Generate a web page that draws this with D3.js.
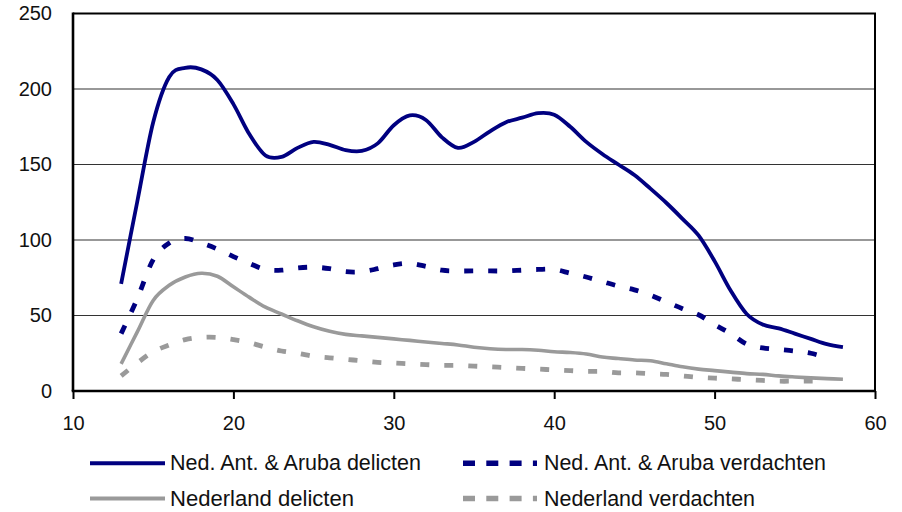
<!DOCTYPE html>
<html>
<head>
<meta charset="utf-8">
<script src="https://cdn.jsdelivr.net/npm/d3@7/dist/d3.min.js"></script>
<style>
  html, body { margin: 0; padding: 0; background: #fff; }
  svg { display: block; }
  text { font-family: "Liberation Sans", Arial, sans-serif; fill: #111; }
</style>
</head>
<body>
<svg id="chart" width="902" height="512"></svg>
<script>
// Leeftijd (ages) on the horizontal axis
const agesFull = d3.range(13, 59);   // 13 .. 58
const agesShort = d3.range(13, 58);  // 13 .. 57

// Ned. Ant. & Aruba delicten
const naDelicten = [71, 125, 178, 208, 214, 213, 206, 190, 170, 156, 155, 161, 165, 163, 159.5,
  159, 164, 176, 182.5, 179.5, 168, 161, 165, 172, 178, 181, 184, 183, 175, 165, 157, 150,
  143, 134, 124.5, 114, 103, 86, 66.5, 51, 44, 41.5, 38, 34.5, 31, 29];

// Ned. Ant. & Aruba verdachten
const naVerdachten = [38, 61, 87, 98, 101, 98, 94, 89, 84.5, 80.5, 80, 81.5, 82, 81, 79,
  79, 81, 83.5, 84.5, 82.5, 80, 79.5, 79.5, 79.5, 79.5, 80, 80.5, 80.5, 78, 75.5, 72.5, 69.5,
  67, 63.5, 59, 54.5, 50.5, 44, 38, 31, 28.5, 27.5, 26.5, 25, 22];

// Nederland delicten
const nlDelicten = [18, 39, 60, 70, 75.5, 78, 76, 69, 62, 55.5, 51, 46.5, 42.5, 39.5, 37.5,
  36.5, 35.5, 34.5, 33.5, 32.5, 31.5, 30.5, 29, 28, 27.5, 27.5, 27, 26, 25.5, 24.5, 22.5, 21.5,
  20.5, 20, 18, 16, 14.5, 13.5, 12.5, 11.5, 11, 10, 9.3, 8.7, 8.2, 7.8];

// Nederland verdachten
const nlVerdachten = [10, 18.5, 26, 30.5, 34, 35.5, 35.5, 34, 32, 29, 26.5, 25, 23, 22, 21,
  20, 19, 18.5, 18, 17.5, 17, 17, 16.5, 16, 15.5, 15, 14.5, 14, 13.5, 13, 13, 12,
  12, 11.5, 11, 10, 9, 8.5, 8, 7.5, 7, 6.5, 6.5, 6.5, 6.5];

const xTicks = [10, 20, 30, 40, 50, 60];
const yTicks = [0, 50, 100, 150, 200, 250];

const seriesNames = [
  "Ned. Ant. & Aruba delicten",
  "Ned. Ant. & Aruba verdachten",
  "Nederland delicten",
  "Nederland verdachten"
];

const NAVY = "#000080";
const GREY = "#9a9a9a";

const series = [
  { name: seriesNames[0], ages: agesFull,  values: naDelicten,   color: NAVY, dashed: false },
  { name: seriesNames[1], ages: agesShort, values: naVerdachten, color: NAVY, dashed: true },
  { name: seriesNames[2], ages: agesFull,  values: nlDelicten,   color: GREY, dashed: false },
  { name: seriesNames[3], ages: agesShort, values: nlVerdachten, color: GREY, dashed: true }
];

const svg = d3.select("#chart");
const plot = { left: 73, right: 875, top: 13.5, bottom: 391 };

const x = d3.scaleLinear().domain([10, 60]).range([plot.left, plot.right]);
const y = d3.scaleLinear().domain([0, 250]).range([plot.bottom, plot.top]);

// horizontal gridlines
svg.append("g")
  .selectAll("line")
  .data(yTicks.filter(v => v > 0 && v < 250))
  .join("line")
  .attr("x1", plot.left).attr("x2", plot.right)
  .attr("y1", d => y(d)).attr("y2", d => y(d))
  .attr("stroke", "#333").attr("stroke-width", 1.2);

// plot frame (top and right edges)
svg.append("path")
  .attr("d", `M${plot.left},${plot.top}H${plot.right}V${plot.bottom}`)
  .attr("fill", "none").attr("stroke", "#000").attr("stroke-width", 2);

// series lines
const line = d3.line()
  .x(d => x(d[0]))
  .y(d => y(d[1]))
  .curve(d3.curveCardinal.tension(0));

const lineOrder = [2, 3, 1, 0];
lineOrder.forEach(i => {
  const s = series[i];
  svg.append("path")
    .datum(s.ages.map((a, k) => [a, s.values[k]]))
    .attr("d", line)
    .attr("fill", "none")
    .attr("stroke", s.color)
    .attr("stroke-width", s.dashed ? 4.8 : (s.color === NAVY ? 3.8 : 3.6))
    .attr("stroke-dasharray", s.dashed ? "9,15" : null)
    .attr("stroke-linejoin", "round");
});

// axes
const xAxis = d3.axisBottom(x).tickValues(xTicks).tickSize(8).tickPadding(17)
  .tickFormat(d3.format("d"));
const gx = svg.append("g")
  .attr("transform", `translate(0,${plot.bottom})`)
  .call(xAxis);
gx.select(".domain").attr("stroke", "#000").attr("stroke-width", 2.6)
  .attr("d", `M${plot.left - 1.3},0H${plot.right + 1}`);
gx.selectAll(".tick line").attr("stroke", "#000").attr("stroke-width", 2);
gx.selectAll(".tick text").attr("font-size", 20).attr("font-family", "Liberation Sans, Arial, sans-serif").attr("fill", "#111");

const yAxis = d3.axisLeft(y).tickValues(yTicks).tickSize(0).tickPadding(21)
  .tickFormat(d3.format("d"));
const gy = svg.append("g")
  .attr("transform", `translate(${plot.left},0)`)
  .call(yAxis);
gy.select(".domain").attr("stroke", "#000").attr("stroke-width", 2.6)
  .attr("d", `M0,${plot.top - 1}V${plot.bottom}`);
gy.selectAll(".tick text").attr("font-size", 20).attr("font-family", "Liberation Sans, Arial, sans-serif").attr("fill", "#111");

// legend
const legendItems = [
  { s: series[0], lx: 90,  ly: 463.3, tx: 170, tw: 251 },
  { s: series[1], lx: 463, ly: 463.3, tx: 544, tw: 282 },
  { s: series[2], lx: 90,  ly: 498.5, tx: 170, tw: 184 },
  { s: series[3], lx: 463, ly: 498.5, tx: 544, tw: 211 }
];
const legend = svg.append("g");
legendItems.forEach(it => {
  const len = it.s.dashed ? 74 : 75;
  legend.append("line")
    .attr("x1", it.lx).attr("x2", it.lx + len)
    .attr("y1", it.ly).attr("y2", it.ly)
    .attr("stroke", it.s.color)
    .attr("stroke-width", it.s.dashed ? 5.5 : 4)
    .attr("stroke-dasharray", it.s.dashed ? "12,11.3" : null);
  legend.append("text")
    .attr("x", it.tx).attr("y", it.ly + 7)
    .attr("font-size", 21.5)
    .attr("textLength", it.tw)
    .attr("lengthAdjust", "spacingAndGlyphs")
    .text(it.s.name);
});
</script>
</body>
</html>
